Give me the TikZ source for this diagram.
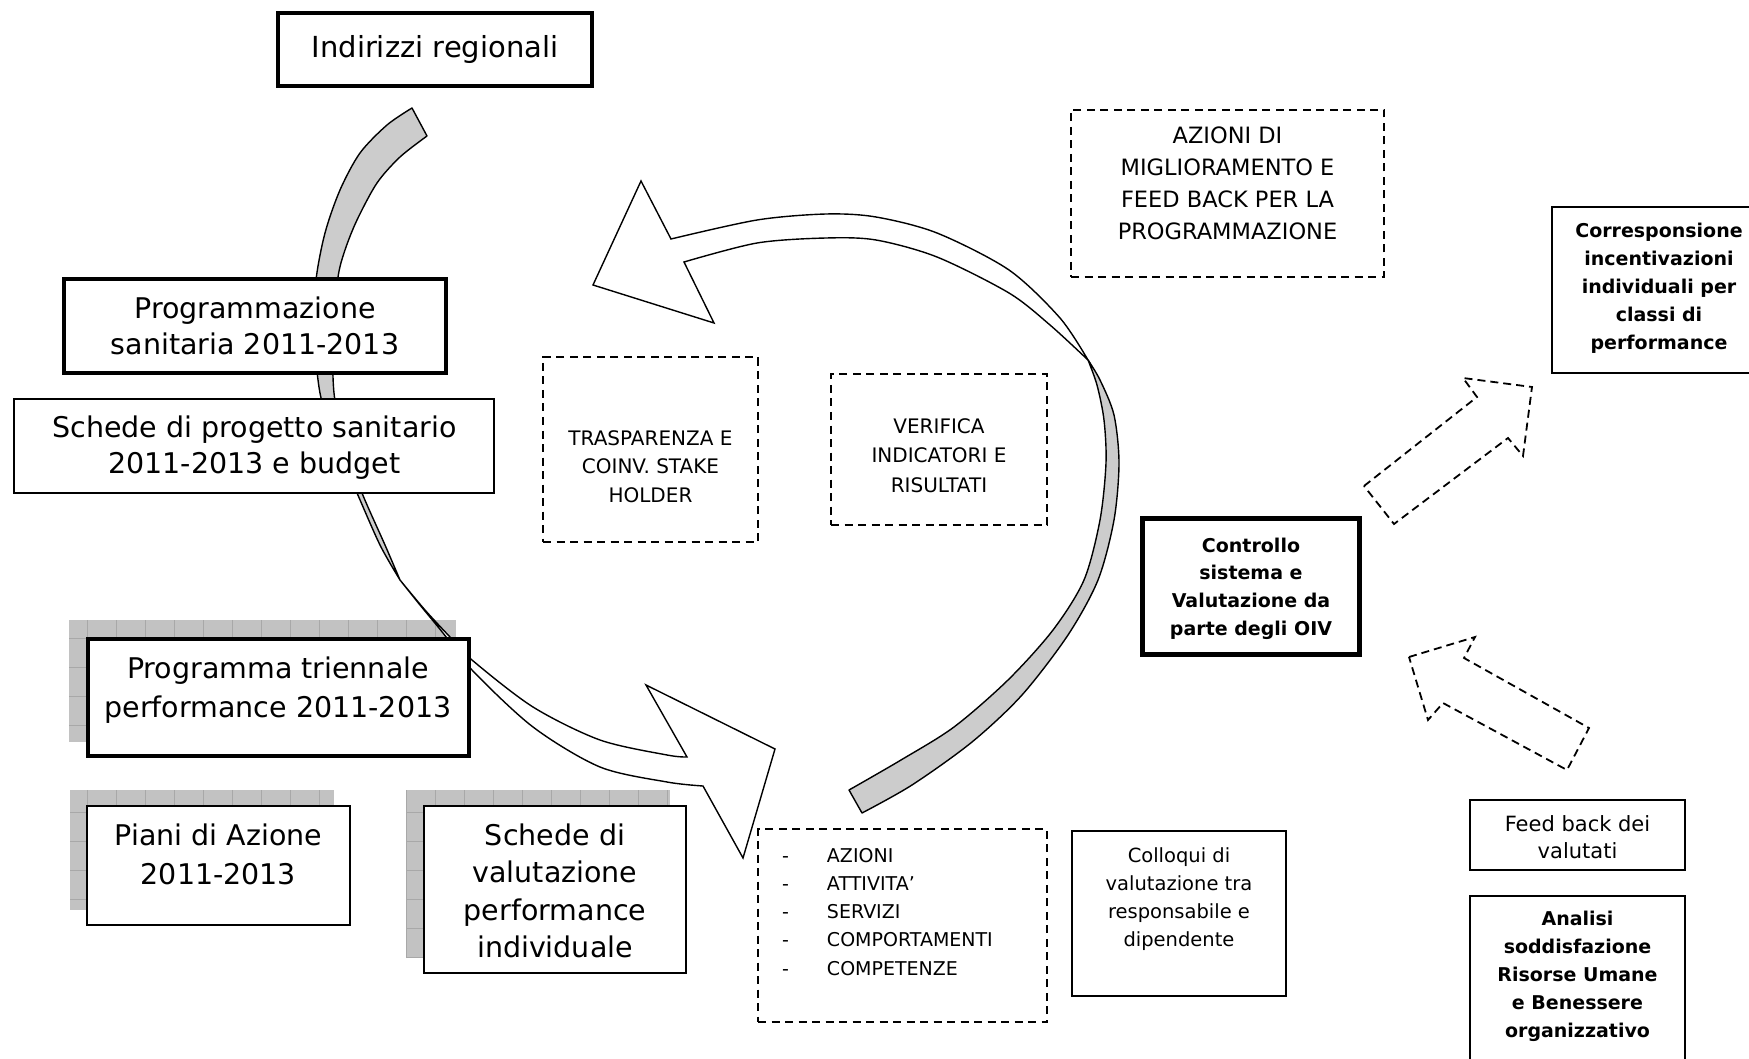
\documentclass[tikz,border=0pt]{standalone}
\usepackage{fontspec}
\setmainfont{DejaVu Sans}
\newcommand{\txtblock}[1]{\begin{tabular}[t]{@{}c@{}}#1\end{tabular}}
\newcommand{\gridshadow}[4]{%
  \begin{scope}
    \clip (#1,#2) rectangle (#3,#4);
    \fill[black!24] (#1,#2) rectangle (#3,#4);
    \draw[black!34, line width=0.7pt, step=29pt] (#1,#2) grid (#3,#4);
  \end{scope}}
\tikzset{
  frame/.style={rectangle, draw=black, fill=white, line width=2pt, inner sep=0pt, outer sep=0pt},
  heavy/.style={frame, line width=4pt},
  dashframe/.style={rectangle, draw=black, line width=1.8pt, dash pattern=on 8pt off 5.5pt, inner sep=0pt, outer sep=0pt},
  words/.style={inner sep=0pt, outer sep=0pt, anchor=base},
  band/.style={draw=black, line width=1.4pt, fill=black!20, line join=round},
  frontband/.style={band, fill=white, line join=miter},
  dasharrow/.style={draw=black, line width=1.8pt, dash pattern=on 8pt off 5pt, line join=miter},
}
\begin{document}
\begin{tikzpicture}[x=1pt, y=-1pt]
\useasboundingbox (0,0) rectangle (1749,1059);
\clip (0,0) rectangle (1749,1059);
\fill[white] (0,0) rectangle (1749,1059);

% grid shadows behind the three framed documents
\gridshadow{69}{620}{456}{742}
\gridshadow{70}{790}{334}{910}
\gridshadow{406}{790}{670}{958}

% left curved arrow: shaded back part
\path[band] plot[smooth] coordinates {(412,108) (387,125) (360,153) (340,190) (325,233) (316,280) (314,330) (320,393) (336,445) (357,493) (380,545) (400,580)}
  -- plot[smooth] coordinates {(400,580) (385,545) (362,493) (345,445) (334,393) (333,330) (338,277) (345,250) (357,220) (377,183) (400,157) (427,136)}
  -- cycle;
% left curved arrow: front part with head
\path[frontband] plot[smooth] coordinates {(400,580) (425,610) (450,637) (472,660) (533,707) (600,740) (667,755) (687,757)}
  -- (646,685) -- (775,749) -- (743,858) -- (703,786)
  -- plot[smooth] coordinates {(703,786) (667,782) (600,767) (533,727) (472,670) (443,633) (420,605) (400,580)}
  -- cycle;

% right curved arrow: shaded back part
\path[band] plot[smooth] coordinates {(862,813) (912,785) (972,742) (1022,695) (1068,635) (1098,580) (1114,520) (1119,463) (1114,415) (1100,380) (1088,360)}
  -- plot[smooth] coordinates {(1088,360) (1097,385) (1104,420) (1106,463) (1100,520) (1084,580) (1053,630) (1008,680) (954,727) (901,760) (849,790)}
  -- cycle;
% right curved arrow: front part with head
\path[frontband] plot[smooth] coordinates {(1088,360) (1060,318) (1009,270) (937,233) (876,217) (826,214) (757,220) (671,239)}
  -- (641,181) -- (593,285) -- (714,323) -- (684,262)
  -- plot[smooth] coordinates {(684,262) (757,243) (826,238) (876,240) (937,257) (1009,293) (1050,325) (1088,360)}
  -- cycle;

% dashed block arrows
\draw[dasharrow] (1364,486) -- (1477,397) -- (1463,378) -- (1532,387) -- (1523,456) -- (1508,438) -- (1394,524) -- cycle;
\draw[dasharrow] (1409,657) -- (1475,637) -- (1464,658) -- (1589,728) -- (1567,770) -- (1443,703) -- (1428,720) -- cycle;

% framed boxes
\node[heavy, line width=4.5pt, minimum width=314pt, minimum height=73pt] (indir) at (435,49.5) {};
\node[heavy, minimum width=382pt, minimum height=94pt] (prog) at (255,326) {};
\node[frame, minimum width=480pt, minimum height=94pt] (sch1) at (254,446) {};
\node[heavy, minimum width=381pt, minimum height=117pt] (ptri) at (278.5,697.5) {};
\node[frame, minimum width=263pt, minimum height=119pt] (piani) at (218.5,865.5) {};
\node[frame, minimum width=262pt, minimum height=167pt] (sch2) at (555,889.5) {};
\node[frame, minimum width=214pt, minimum height=165pt] (collo) at (1179,913.5) {};
\node[heavy, line width=5pt, minimum width=217pt, minimum height=136pt] (oiv) at (1251,586.5) {};
\node[frame, line width=2.5pt, minimum width=218pt, minimum height=166pt] (corr) at (1661,290) {};
\node[frame, minimum width=215pt, minimum height=70pt] (feed) at (1577.5,835) {};
\node[frame, line width=2.5pt, minimum width=215pt, minimum height=184pt] (anal) at (1577.5,988) {};

% dashed boxes
\node[dashframe, minimum width=313pt, minimum height=167pt] (azmig) at (1227.5,193.5) {};
\node[dashframe, minimum width=215pt, minimum height=185pt] (trasp) at (650.5,449.5) {};
\node[dashframe, minimum width=216pt, minimum height=151pt] (verif) at (939,449.5) {};
\node[dashframe, minimum width=289pt, minimum height=193pt] (lista) at (902.5,925.5) {};

% texts
\node[words, font=\fontsize{29}{36}\selectfont] (indir-t) at (435,58) {\txtblock{Indirizzi regionali}};
\node[words, font=\fontsize{28.5}{36}\selectfont] (prog-t) at (255,319) {\txtblock{Programmazione\\ sanitaria 2011-2013}};
\node[words, font=\fontsize{28.5}{36}\selectfont] (sch1-t) at (254.5,437) {\txtblock{Schede di progetto sanitario\\ 2011-2013 e budget}};
\node[words, font=\fontsize{28.5}{39}\selectfont] (ptri-t) at (278,678) {\txtblock{Programma triennale\\ performance 2011-2013}};
\node[words, font=\fontsize{28.5}{39}\selectfont] (piani-t) at (218.5,845) {\txtblock{Piani di Azione\\ 2011-2013}};
\node[words, font=\fontsize{28.5}{37.5}\selectfont] (sch2-t) at (555,845) {\txtblock{Schede di\\ valutazione\\ performance\\ individuale}};
\node[words, font=\fontsize{22.5}{31.7}\selectfont] (azmig-t) at (1227.5,144) {\txtblock{AZIONI DI\\ MIGLIORAMENTO E\\ FEED BACK PER LA\\ PROGRAMMAZIONE}};
\node[words, font=\fontsize{20}{28.5}\selectfont] (trasp-t) at (650.5,445) {\txtblock{TRASPARENZA E\\ COINV. STAKE\\ HOLDER}};
\node[words, font=\fontsize{20}{29.5}\selectfont] (verif-t) at (939,433) {\txtblock{VERIFICA\\ INDICATORI E\\ RISULTATI}};
\node[words, anchor=base west, font=\fontsize{19}{28.3}\selectfont] (lista-t) at (782,862)
  {\begin{tabular}[t]{@{}l@{}}\makebox[45pt][l]{-}AZIONI\\ \makebox[45pt][l]{-}ATTIVITA’\\ \makebox[45pt][l]{-}SERVIZI\\ \makebox[45pt][l]{-}COMPORTAMENTI\\ \makebox[45pt][l]{-}COMPETENZE\end{tabular}};
\node[words, font=\fontsize{19.5}{28}\selectfont] (collo-t) at (1179,862) {\txtblock{Colloqui di\\ valutazione tra\\ responsabile e\\ dipendente}};
\node[words, font=\bfseries\fontsize{19}{27.7}\selectfont] (oiv-t) at (1251,552) {\txtblock{Controllo\\ sistema e\\ Valutazione da\\ parte degli OIV}};
\node[words, font=\bfseries\fontsize{19}{28}\selectfont] (corr-t) at (1659,238) {\txtblock{Corresponsione\\ incentivazioni\\ individuali per\\ classi di\\ performance}};
\node[words, font=\fontsize{21}{27}\selectfont] (feed-t) at (1577.5,831) {\txtblock{Feed back dei\\ valutati}};
\node[words, font=\bfseries\fontsize{19}{28}\selectfont] (anal-t) at (1577.5,925) {\txtblock{Analisi\\ soddisfazione\\ Risorse Umane\\ e Benessere\\ organizzativo}};
\end{tikzpicture}
\end{document}
